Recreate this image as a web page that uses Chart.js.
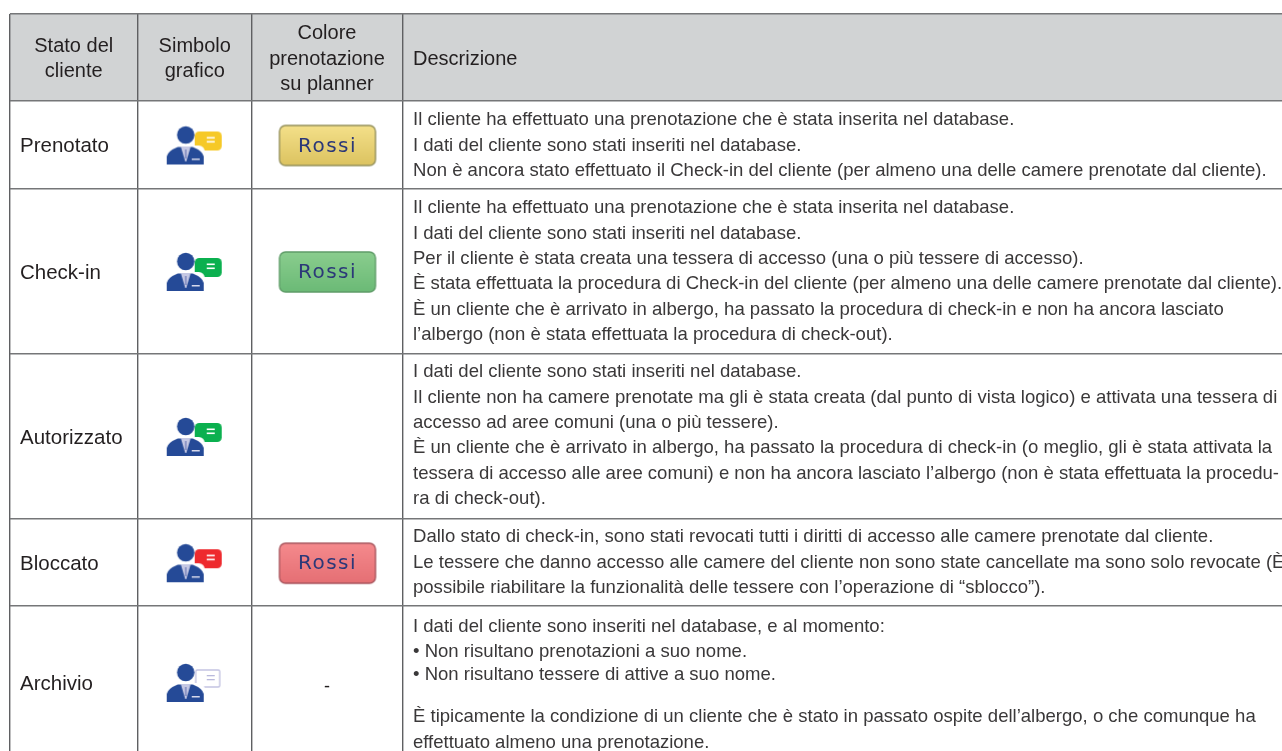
<!DOCTYPE html>
<html><head><meta charset="utf-8">
<style>html,body{margin:0;padding:0;background:#fff}#w{width:1282px;height:751px;position:relative}</style>
<script src="https://cdn.jsdelivr.net/npm/chart.js@4"></script></head>
<body><div id="w"><canvas id="c" width="1282" height="751"></canvas></div>
<script>
// ---- content ----
const headers = [["Stato del","cliente"],["Simbolo","grafico"],["Colore","prenotazione","su planner"],["Descrizione"]];
const statuses = ["Prenotato","Check-in","Autorizzato","Bloccato","Archivio"];
const bubbleColors = ["#f6c927","#0bb04f","#0bb04f","#ee2a2e",null];
const plannerColors = ["yellow","green",null,"red",null];
const plannerLabel = "Rossi";
const descriptions = [
 ["Il cliente ha effettuato una prenotazione che è stata inserita nel database.",
  "I dati del cliente sono stati inseriti nel database.",
  "Non è ancora stato effettuato il Check-in del cliente (per almeno una delle camere prenotate dal cliente)."],
 ["Il cliente ha effettuato una prenotazione che è stata inserita nel database.",
  "I dati del cliente sono stati inseriti nel database.",
  "Per il cliente è stata creata una tessera di accesso (una o più tessere di accesso).",
  "È stata effettuata la procedura di Check-in del cliente (per almeno una delle camere prenotate dal cliente).",
  "È un cliente che è arrivato in albergo, ha passato la procedura di check-in e non ha ancora lasciato",
  "l’albergo (non è stata effettuata la procedura di check-out)."],
 ["I dati del cliente sono stati inseriti nel database.",
  "Il cliente non ha camere prenotate ma gli è stata creata (dal punto di vista logico) e attivata una tessera di",
  "accesso ad aree comuni (una o più tessere).",
  "È un cliente che è arrivato in albergo, ha passato la procedura di check-in (o meglio, gli è stata attivata la",
  "tessera di accesso alle aree comuni) e non ha ancora lasciato l’albergo (non è stata effettuata la procedu-",
  "ra di check-out)."],
 ["Dallo stato di check-in, sono stati revocati tutti i diritti di accesso alle camere prenotate dal cliente.",
  "Le tessere che danno accesso alle camere del cliente non sono state cancellate ma sono solo revocate (È",
  "possibile riabilitare la funzionalità delle tessere con l’operazione di “sblocco”)."],
 ["I dati del cliente sono inseriti nel database, e al momento:",
  "• Non risultano prenotazioni a suo nome.",
  "• Non risultano tessere di attive a suo nome.",
  "È tipicamente la condizione di un cliente che è stato in passato ospite dell’albergo, o che comunque ha",
  "effettuato almeno una prenotazione."]
];
// ---- layout (scale units equal page pixels) ----
const colEdges=[9.5,138,251.5,402.5,1282];
const rowEdges=[13.5,100.5,188.5,353.5,518.5,606,758];
const descFirst=[120,208,372,537,627];
const descOffsets=[null,null,null,null,[0,25,48,90,116]];
const lineStep=25.4;
const INK="#231f20";
const FONT="'Liberation Sans', Arial, sans-serif";
const mid=(a,i)=>(a[i]+a[i+1])/2;

function personIcon(bubble){
  const c=document.createElement('canvas');c.width=64;c.height=46;const g=c.getContext('2d');
  g.filter='blur(0.45px)';
  const ox=4,oy=3;
  const blue="#254a97";
  if(bubble){g.fillStyle=bubble;g.beginPath();g.roundRect(ox+28,oy+6,27,19,4.5);g.fill();
    g.fillStyle="#fff";g.fillRect(ox+40,oy+11.5,8,1.6);g.fillRect(ox+40,oy+15.5,8,1.6);}
  else{g.strokeStyle="#c3c3e2";g.lineWidth=1.4;g.beginPath();g.roundRect(ox+29,oy+7,24,17,1.5);g.stroke();
    g.fillStyle="#b9b9dc";g.fillRect(ox+40,oy+12,8,1.3);g.fillRect(ox+40,oy+16,8,1.3);}
  g.fillStyle="#fff";g.beginPath();g.roundRect(ox-1,oy+20,39,20,6);g.fill();
  g.fillStyle=blue;g.beginPath();g.arc(ox+19,oy+9.5,8.7,0,Math.PI*2);g.fill();
  g.beginPath();g.moveTo(ox,oy+39);g.lineTo(ox,oy+31);g.quadraticCurveTo(ox+1,oy+25.5,ox+11,oy+21.5);
  g.lineTo(ox+26,oy+21.5);g.quadraticCurveTo(ox+36,oy+25.5,ox+37,oy+31);g.lineTo(ox+37,oy+39);g.closePath();g.fill();
  g.fillStyle="#c5c8e4";g.beginPath();g.moveTo(ox+14,oy+21);g.lineTo(ox+24,oy+21);g.lineTo(ox+19.5,oy+36);g.lineTo(ox+18.5,oy+36);g.closePath();g.fill();
  g.fillStyle="#8d96c6";g.fillRect(ox+18,oy+24,2,9);
  g.fillStyle="#d7d9ec";g.fillRect(ox+25,oy+33,8,1.5);
  return c;
}
const plannerStyles={
 yellow:{top:"#f4e08a",bot:"#dcc360",edge:"#94905a"},
 green:{top:"#8acd8e",bot:"#6bba76",edge:"#5f9c68"},
 red:{top:"#f58a8d",bot:"#e56f74",edge:"#a8545c"}};
function plannerButton(kind){
  const s=plannerStyles[kind];
  const c=document.createElement('canvas');c.width=100;c.height=44;const g=c.getContext('2d');
  const gr=g.createLinearGradient(0,2,0,42);gr.addColorStop(0,s.top);gr.addColorStop(1,s.bot);
  g.fillStyle=gr;g.strokeStyle=s.edge;g.lineWidth=1.4;
  g.beginPath();g.roundRect(2,2,96,40,6);g.fill();g.stroke();
  return c;
}
const iconPoints=statuses.map((s,i)=>({x:mid(colEdges,1),y:mid(rowEdges,i+1)+1}));
const iconStyles=bubbleColors.map(personIcon);
const btnIdx=plannerColors.map((k,i)=>k?i:-1).filter(i=>i>=0);
const btnPoints=btnIdx.map(i=>({x:mid(colEdges,2)+0.5,y:mid(rowEdges,i+1)+1}));
const btnStyles=btnIdx.map(i=>plannerButton(plannerColors[i]));

const tablePlugin={id:'table',
 beforeDraw(ch){
  const {ctx,scales:{x,y}}=ch;
  ctx.save();
  ctx.fillStyle="#d1d3d4";
  ctx.fillRect(x.getPixelForValue(colEdges[0]),y.getPixelForValue(rowEdges[0]),
    x.getPixelForValue(colEdges[4])-x.getPixelForValue(colEdges[0]),y.getPixelForValue(rowEdges[1])-y.getPixelForValue(rowEdges[0]));
  ctx.restore();
 },
 afterDatasetsDraw(ch){
  const {ctx,scales:{x,y}}=ch;
  ctx.save();ctx.fillStyle=INK;ctx.textBaseline='middle';
  ctx.font="20px "+FONT;
  headers.forEach((ls,ci)=>{
    const left=ci===3;ctx.textAlign=left?'left':'center';
    const px=left?x.getPixelForValue(colEdges[3])+10.5:x.getPixelForValue(mid(colEdges,ci));
    const cy=y.getPixelForValue(mid(rowEdges,0))+2;
    ls.forEach((t,k)=>ctx.fillText(t,px,cy+(k-(ls.length-1)/2)*25.7));
  });
  ctx.textAlign='left';ctx.font="20.5px "+FONT;
  statuses.forEach((t,i)=>ctx.fillText(t,x.getPixelForValue(colEdges[0])+10.5,y.getPixelForValue(mid(rowEdges,i+1))+2));
  ctx.textAlign='center';ctx.fillStyle="#2c3878";ctx.font="20px 'DejaVu Sans', sans-serif";ctx.letterSpacing="1.5px";
  btnPoints.forEach(p=>ctx.fillText(plannerLabel,x.getPixelForValue(p.x),y.getPixelForValue(p.y)+1));
  ctx.letterSpacing="0px";
  ctx.fillStyle=INK;ctx.font="18px "+FONT;
  ctx.fillText("-",x.getPixelForValue(mid(colEdges,2)),y.getPixelForValue(mid(rowEdges,5))+5);
  ctx.textAlign='left';ctx.fillStyle="#3a3839";ctx.font="18.55px "+FONT;
  descriptions.forEach((ls,i)=>ls.forEach((t,k)=>{
    const off=descOffsets[i]?descOffsets[i][k]:k*lineStep;
    ctx.fillText(t,x.getPixelForValue(colEdges[3])+10.5,y.getPixelForValue(descFirst[i]+off));
  }));
  ctx.restore();
 }};

Chart.defaults.font.family=FONT;
new Chart(document.getElementById('c'),{
 type:'scatter',
 data:{datasets:[
  {label:'Simbolo grafico',data:iconPoints,pointStyle:iconStyles,pointRadius:10,pointHoverRadius:10,clip:false},
  {label:'Colore prenotazione su planner',data:btnPoints,pointStyle:btnStyles,pointRadius:10,pointHoverRadius:10,clip:false}
 ]},
 plugins:[tablePlugin],
 options:{responsive:false,animation:false,events:[],
  layout:{autoPadding:false,padding:{left:colEdges[0],top:rowEdges[0],right:0,bottom:0}},
  plugins:{legend:{display:false},tooltip:{enabled:false},title:{display:false}},
  scales:{
   x:{type:'linear',min:colEdges[0],max:1282,display:true,position:'top',
      afterFit(s){s.height=0;},
      afterBuildTicks(s){s.ticks=colEdges.slice(0,4).map(v=>({value:v}));},
      ticks:{display:false},border:{display:false},
      grid:{color:"#5f6062",lineWidth:1.4,drawTicks:false}},
   y:{type:'linear',min:rowEdges[0],max:751,reverse:true,display:true,
      afterFit(s){s.width=0;},
      afterBuildTicks(s){s.ticks=rowEdges.slice(0,6).map(v=>({value:v}));},
      ticks:{display:false},border:{display:false},
      grid:{color:"#757678",lineWidth:1.6,drawTicks:false}}
  }
 }
});
</script></body></html>
